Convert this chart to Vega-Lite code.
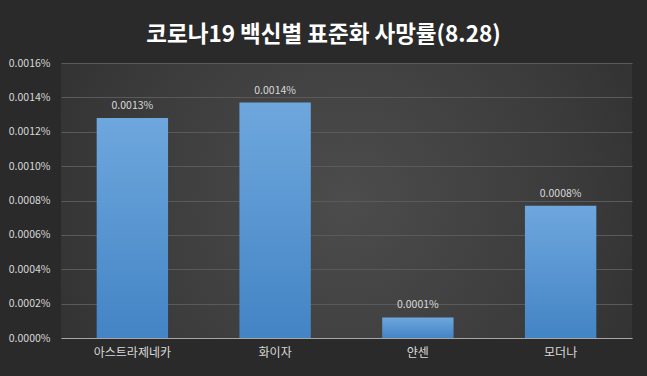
{
  "$schema": "https://vega.github.io/schema/vega-lite/v6.json",
  "autosize": "none",
  "width": 571,
  "height": 275,
  "padding": {"left": 61, "top": 63, "right": 15, "bottom": 38},
  "background": "#2a2a2a",
  "title": {
    "text": "코로나19 백신별 표준화 사망률(8.28)",
    "font": "Noto Sans CJK KR",
    "fontSize": 22.5,
    "fontWeight": "bold",
    "color": "#ffffff",
    "anchor": "middle",
    "frame": "group",
    "dx": -23,
    "offset": 12
  },
  "config": {
    "view": {
      "stroke": null,
      "fill": {
        "gradient": "radial",
        "x1": 0.5, "y1": 0.5, "r1": 0,
        "x2": 0.5, "y2": 0.5, "r2": 0.72,
        "stops": [
          {"offset": 0, "color": "#4c4c4c"},
          {"offset": 0.55, "color": "#3b3b3b"},
          {"offset": 1, "color": "#2a2a2a"}
        ]
      }
    },
    "font": "Noto Sans CJK KR"
  },
  "data": {
    "values": [
      {"vaccine": "아스트라제네카", "rate": 0.0000128},
      {"vaccine": "화이자", "rate": 0.0000137},
      {"vaccine": "얀센", "rate": 0.0000012},
      {"vaccine": "모더나", "rate": 0.0000077}
    ]
  },
  "encoding": {
    "x": {
      "field": "vaccine",
      "type": "nominal",
      "sort": null,
      "scale": {"paddingInner": 0.5, "paddingOuter": 0.25},
      "axis": {
        "title": null,
        "labelAngle": 0,
        "labelColor": "#d9d9d9",
        "labelFont": "Noto Sans CJK KR",
        "labelFontSize": 12,
        "labelPadding": 9,
        "ticks": false,
        "domainColor": "#a6a6a6",
        "domainWidth": 1,
        "grid": false
      }
    },
    "y": {
      "field": "rate",
      "type": "quantitative",
      "scale": {"domain": [0, 0.000016]},
      "axis": {
        "title": null,
        "format": ".4%",
        "values": [0, 0.000002, 0.000004, 0.000006, 0.000008, 0.00001, 0.000012, 0.000014, 0.000016],
        "labelColor": "#d9d9d9",
        "labelFont": "Noto Sans CJK KR",
        "labelFontSize": 10.5,
        "labelPadding": 11,
        "ticks": false,
        "domain": false,
        "gridColor": "#5a5a5a",
        "gridWidth": 1
      }
    }
  },
  "layer": [
    {
      "mark": {
        "type": "bar",
        "fill": {
          "gradient": "linear",
          "x1": 0, "y1": 0, "x2": 0, "y2": 1,
          "stops": [
            {"offset": 0, "color": "#6ea7dd"},
            {"offset": 1, "color": "#4384c5"}
          ]
        }
      }
    },
    {
      "mark": {
        "type": "text",
        "baseline": "bottom",
        "dy": -7,
        "fontSize": 10.5,
        "color": "#d9d9d9",
        "font": "Noto Sans CJK KR"
      },
      "encoding": {
        "text": {"field": "rate", "type": "quantitative", "format": ".4%"}
      }
    }
  ]
}
